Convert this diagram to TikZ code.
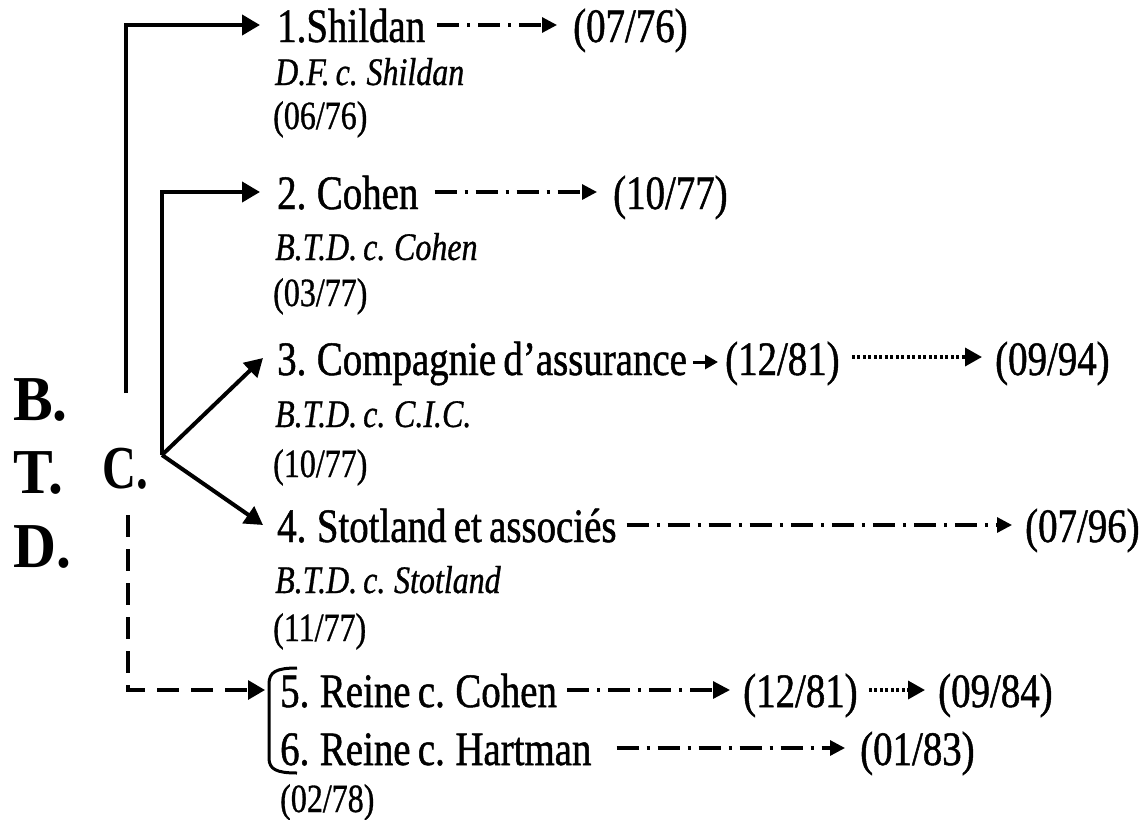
\documentclass[tikz,border=0pt]{standalone}
\usepackage{fontspec}
\setmainfont{Liberation Serif}
\newfontfamily\mf[FakeStretch=0.81,FakeBold=1,WordSpace=0.75]{Liberation Serif}
\newfontfamily\btdfont[FakeStretch=0.93]{Liberation Serif}
\newfontfamily\cfont[FakeStretch=0.77]{Liberation Serif}
\newfontfamily\itfont[FakeStretch=0.82,FakeBold=0.8,WordSpace=0.75]{Liberation Serif}
\newfontfamily\ldfont[FakeStretch=0.8,FakeBold=0.8]{Liberation Serif}
\usetikzlibrary{arrows.meta,calc}
\begin{document}
\begin{tikzpicture}[x=1pt,y=-1pt,
 headtxt/.style={font=\mf\fontsize{48}{52}\selectfont,anchor=base west,inner sep=0pt},
 ittxt/.style={font=\itfont\itshape\fontsize{39}{42}\selectfont,anchor=base west,inner sep=0pt},
 ldate/.style={font=\ldfont\fontsize{40}{42}\selectfont,anchor=base west,inner sep=0pt},
 bigl/.style={font=\btdfont\bfseries\fontsize{64}{70}\selectfont,anchor=base west,inner sep=0pt},
 bigc/.style={font=\cfont\bfseries\fontsize{61}{70}\selectfont,anchor=base west,inner sep=0pt},
 solidarr/.style={line width=4pt,-{Triangle[length=18pt,width=20pt]}},
 dasharr/.style={line width=3.2pt,dash pattern=on 22pt off 12pt,-{Triangle[length=17pt,width=19pt]}},
 ddarr/.style={line width=3.2pt,dash pattern=on 22pt off 8pt on 3pt off 8pt,-{Triangle[length=15pt,width=15pt]}},
 dotarr/.style={line width=3.5pt,dash pattern=on 3pt off 2.5pt,-{Triangle[length=17pt,width=18pt]}},
 shortarr/.style={line width=3pt,-{Triangle[length=13pt,width=14pt]}},
 brackline/.style={line width=3pt}
]
\path[use as bounding box] (0,0) rectangle (1148,819);

% left letters
\node[bigl] (lb) at (13,420) {B.};
\node[bigl] (lt) at (13,493) {T.};
\node[bigl] (ld) at (13,567) {D.};
\node[bigc] (lc) at (102,488) {C.};

% row 1
\node[headtxt] (h1) at (277,42) {1.Shildan};
\node[headtxt] (r1) at (573,42) {(07/76)};
\node[ittxt] (i1) at (275,85) {D.F. c. Shildan};
\node[ldate] (l1) at (273,129) {(06/76)};

% row 2
\node[headtxt] (h2) at (277,209) {2. Cohen};
\node[headtxt] (r2) at (613,209) {(10/77)};
\node[ittxt] (i2) at (275,260) {B.T.D. c. Cohen};
\node[ldate] (l2) at (273,306) {(03/77)};

% row 3
\node[headtxt] (h3) at (277,375) {3. Compagnie d’assurance};
\node[headtxt] (r3a) at (725,375) {(12/81)};
\node[headtxt] (r3b) at (995,375) {(09/94)};
\node[ittxt] (i3) at (275,427) {B.T.D. c. C.I.C.};
\node[ldate] (l3) at (273,477) {(10/77)};

% row 4
\node[headtxt] (h4) at (277,542) {4. Stotland et associés};
\node[headtxt] (r4) at (1025,542) {(07/96)};
\node[ittxt] (i4) at (275,593) {B.T.D. c. Stotland};
\node[ldate] (l4) at (273,641) {(11/77)};

% rows 5 and 6
\node[headtxt] (h5) at (280,707) {5. Reine c. Cohen};
\node[headtxt] (r5a) at (743,707) {(12/81)};
\node[headtxt] (r5b) at (938,707) {(09/84)};
\node[headtxt] (h6) at (280,765) {6. Reine c. Hartman};
\node[headtxt] (r6) at (860,765) {(01/83)};
\node[ldate] (l6) at (280,812) {(02/78)};

% bracket
\draw[brackline] (297,668) .. controls (276,668) and (269,672) .. (269,684) -- (269,758) .. controls (269,769) and (276,773) .. (297,773);
\coordinate (brk) at (265,690);

% left connectors
\coordinate (o1) at (126,393);
\coordinate (v) at (162,455);
\coordinate (dv) at (128,515);
\draw[solidarr] (o1) |- ($(h1.base west)+(-17,-17)$);
\draw[solidarr] (v) |- ($(h2.base west)+(-17,-17)$);
\draw[solidarr] (v) -- ($(h3.base west)+(-14,-17)$);
\draw[solidarr] (v) -- ($(h4.base west)+(-14,-17)$);
\draw[dasharr] (dv) |- (brk);

% row connectors
\draw[ddarr] ($(h1.base east)+(12,-17)$) -- ($(r1.base west)+(-16,-17)$);
\draw[ddarr] ($(h2.base east)+(16,-17)$) -- ($(r2.base west)+(-16,-17)$);
\draw[shortarr] ($(h3.base east)+(6,-13)$) -- ($(r3a.base west)+(-7,-13)$);
\draw[dotarr] ($(r3a.base east)+(12,-18)$) -- ($(r3b.base west)+(-13,-18)$);
\draw[ddarr] ($(h4.base east)+(10,-17)$) -- ($(r4.base west)+(-13,-17)$);
\draw[ddarr,-{Triangle[length=17pt,width=17pt]}] ($(h5.base east)+(10,-17)$) -- ($(r5a.base west)+(-13,-17)$);
\draw[dotarr] ($(r5a.base east)+(11,-17)$) -- ($(r5b.base west)+(-13,-17)$);
\draw[ddarr] ($(h6.base east)+(25,-17)$) -- ($(r6.base west)+(-15,-17)$);
\end{tikzpicture}
\end{document}
